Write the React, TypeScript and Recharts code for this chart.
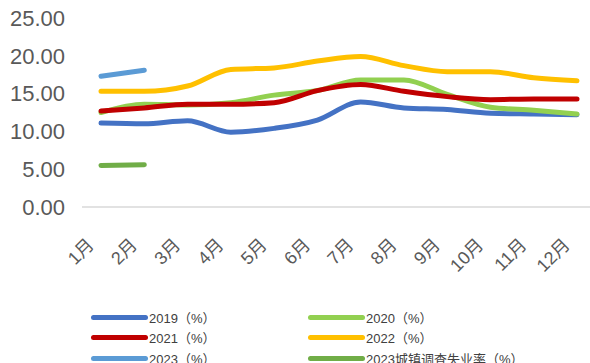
import { LineChart, Line, XAxis, YAxis } from 'recharts'

// --- Data ---
const months = ['1月', '2月', '3月', '4月', '5月', '6月', '7月', '8月', '9月', '10月', '11月', '12月']
const y2019 = [11.1, 11.0, 11.4, 9.9, 10.4, 11.5, 13.9, 13.1, 12.9, 12.4, 12.3, 12.2]
const y2020 = [12.5, 13.6, 13.5, 13.8, 14.8, 15.4, 16.8, 16.8, 14.9, 13.2, 12.8, 12.3]
const y2021 = [12.7, 13.1, 13.6, 13.6, 13.8, 15.4, 16.2, 15.3, 14.6, 14.2, 14.3, 14.3]
const y2022 = [15.3, 15.3, 16.0, 18.2, 18.4, 19.3, 19.9, 18.7, 17.9, 17.9, 17.1, 16.7]
const y2023 = [17.3, 18.1, null, null, null, null, null, null, null, null, null, null]
const urban2023 = [5.5, 5.6, null, null, null, null, null, null, null, null, null, null]
const yTicks = [0, 5, 10, 15, 20, 25]

const SERIES = [
  { key: 'y2019', name: '2019（%）', color: '#4472C4', values: y2019 },
  { key: 'y2020', name: '2020（%）', color: '#92D050', values: y2020 },
  { key: 'y2021', name: '2021（%）', color: '#C00000', values: y2021 },
  { key: 'y2022', name: '2022（%）', color: '#FFC000', values: y2022 },
  { key: 'y2023', name: '2023（%）', color: '#5B9BD5', values: y2023 },
  { key: 'urban2023', name: '2023城镇调查失业率（%）', color: '#70AD47', values: urban2023 },
]

const data = months.map((m, i) => {
  const row: Record<string, string | number | null> = { month: m }
  SERIES.forEach((s) => { row[s.key] = s.values[i] })
  return row
})

const FONT = '"Liberation Sans", Arial, "Noto Sans CJK SC", sans-serif'

function MonthTick({ x, y, payload }: { x: number; y: number; payload: { value: string } }) {
  const ax = x - 6
  const ay = y + 31
  return (
    <text x={ax} y={ay} transform={`rotate(-45 ${ax} ${ay})`} textAnchor="end" fontSize={18} fill="#595959" fontFamily={FONT}>
      {payload.value}
    </text>
  )
}

function LegendBox() {
  return (
    <div style={{ position: 'absolute', left: 0, top: 0, width: 590, height: 363, pointerEvents: 'none' }}>
      {SERIES.map((s, i) => {
        const col = i % 2
        const row = Math.floor(i / 2)
        return (
          <div
            key={s.key}
            style={{
              position: 'absolute',
              left: col ? 308 : 91,
              top: 317 + row * 20.5 - 9,
              height: 18,
              display: 'flex',
              alignItems: 'center',
              fontSize: 13,
              color: '#404040',
              fontFamily: FONT,
              whiteSpace: 'nowrap',
            }}
          >
            <span style={{ display: 'inline-block', width: 57, height: 5, borderRadius: 3, background: s.color, marginRight: 1 }} />
            <span>{s.name}</span>
          </div>
        )
      })}
    </div>
  )
}

export default function App() {
  return (
    <div style={{ position: 'absolute', left: 0, top: 0, width: 590, height: 363, background: '#fff', overflow: 'hidden' }}>
      <LineChart width={590} height={363} data={data} margin={{ top: 18, right: 0, left: 0, bottom: 126 }}>
        <XAxis
          dataKey="month"
          height={30}
          padding={{ left: 19, right: 13 }}
          axisLine={{ stroke: '#D9D9D9', strokeWidth: 1.5 }}
          tickLine={false}
          interval={0}
          tick={MonthTick}
        />
        <YAxis
          width={82}
          domain={[0, 25]}
          ticks={yTicks}
          tickFormatter={(v) => Number(v).toFixed(2)}
          axisLine={false}
          tickLine={false}
          tickMargin={11}
          tick={{ fill: '#595959', fontSize: 22, fontFamily: FONT }}
        />
        {SERIES.map((s) => (
          <Line
            key={s.key}
            dataKey={s.key}
            name={s.name}
            type="monotone"
            stroke={s.color}
            strokeWidth={5}
            strokeLinecap="round"
            dot={false}
            activeDot={false}
            isAnimationActive={false}
          />
        ))}
      </LineChart>
      <LegendBox />
    </div>
  )
}
